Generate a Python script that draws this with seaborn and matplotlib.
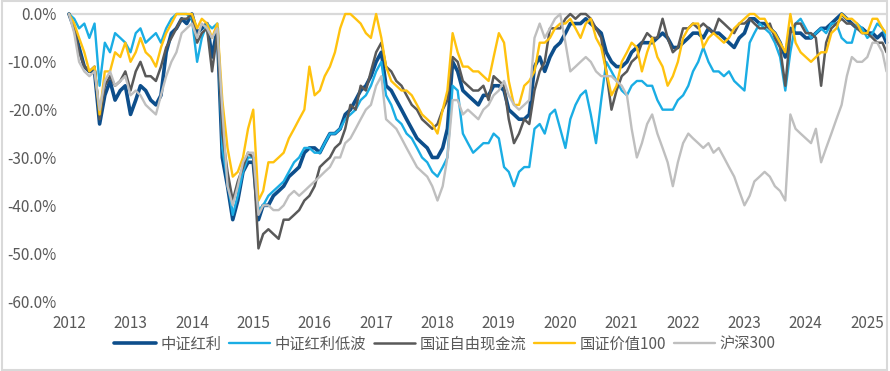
import matplotlib

matplotlib.use("Agg")

import matplotlib.dates as mdates
import matplotlib.pyplot as plt
import pandas as pd
import seaborn as sns
from matplotlib.patches import Rectangle
from matplotlib.ticker import FuncFormatter

# monthly readings of drawdown (%), last point is the end of the sample
dates = list(pd.date_range("2012-01-01", periods=160, freq="MS")) + [pd.Timestamp("2025-04-25")]

zz_hongli = [
    0, -3, -7, -11, -12, -12, -23, -17, -14, -18, -16, -15, -21, -18, -15, -16, -18, -19, -17, -8,
    -4, -3, -1, -2, 0, -4, -3, -2, -9, -3, -30, -36, -43, -39, -33, -31, -31, -43, -40, -40,
    -38, -37, -36, -34, -33, -32, -29, -28, -28, -29, -27, -25, -25, -24, -21, -20, -18, -16, -15, -13,
    -10, -8, -15, -16, -18, -20, -22, -24, -26, -27, -28, -30, -30, -28, -24, -10, -12, -16, -17, -18,
    -19, -17, -17, -15, -15, -16, -20, -21, -22, -22, -21, -11, -9, -12, -9, -7, -6, -4, -2, -2,
    -2, -1, -2, -3, -4, -8, -10, -11, -11, -10, -8, -7, -6, -6, -6, -5, -4, -5, -7, -7,
    -6, -5, -4, -4, -5, -3, -4, -4, -5, -6, -7, -5, -4, -1, -1, -2, -2, -3, -4, -6,
    -9, -3, -4, -4, -5, -5, -4, -3, -3, -2, -1, 0, -1, -2, -3, -3, -4, -4, -5, -4,
    -6,
]

zz_hongli_dibo = [
    0, -1, -3, -2, -5, -2, -15, -6, -8, -4, -5, -6, -8, -4, -3, -6, -5, -4, -6, -3,
    -1, 0, 0, 0, -1, -10, -5, -2, -3, -2, -28, -35, -42, -38, -33, -30, -30, -41, -40, -38,
    -37, -36, -35, -33, -31, -30, -28, -28, -29, -29, -27, -25, -25, -24, -22, -21, -20, -18, -17, -15,
    -12, -10, -17, -19, -22, -23, -25, -26, -28, -30, -31, -33, -34, -32, -30, -15, -16, -25, -27, -29,
    -28, -27, -27, -25, -26, -32, -33, -36, -33, -32, -32, -24, -23, -25, -21, -20, -24, -28, -22, -19,
    -17, -16, -21, -27, -18, -10, -12, -14, -16, -17, -15, -14, -14, -15, -15, -18, -20, -20, -20, -18,
    -17, -15, -12, -10, -7, -10, -12, -12, -13, -12, -14, -15, -16, -6, -4, -2, -3, -4, -6, -9,
    -16, -8, -2, -1, -3, -5, -4, -3, -4, -2, -2, -5, -6, -6, -2, -3, -5, -4, -2, -3,
    -5,
]

gz_xianjinliu = [
    0, -3, -8, -11, -12, -11, -22, -15, -13, -15, -14, -12, -16, -12, -10, -13, -13, -14, -11, -7,
    -5, -3, -1, -1, 0, -6, -4, -3, -12, -4, -25, -33, -39, -35, -32, -29, -30, -49, -46, -45,
    -46, -47, -43, -43, -42, -41, -39, -38, -36, -32, -31, -30, -28, -27, -24, -19, -20, -15, -16, -12,
    -8, -6, -11, -12, -14, -15, -17, -19, -20, -22, -23, -24, -23, -20, -18, -9, -10, -14, -15, -16,
    -16, -15, -18, -13, -14, -15, -22, -27, -25, -22, -23, -16, -12, -10, -3, -3, -3, -1, 0, -1,
    0, 0, -1, -3, -5, -12, -20, -16, -13, -12, -10, -9, -6, -4, -5, -5, -1, -5, -8, -7,
    -3, -3, -2, -3, -2, -3, -4, -1, -2, -3, -4, -2, -2, -1, -2, -3, -3, -2, -5, -7,
    -15, -4, -2, -2, -4, -4, -5, -15, -6, -3, -2, -1, -2, -2, -3, -4, -4, -5, -6, -6,
    -8,
]

gz_jiazhi100 = [
    0, -2, -5, -8, -12, -11, -21, -12, -12, -8, -9, -6, -10, -8, -5, -8, -9, -11, -7, -4,
    -2, 0, 0, 0, 0, -3, -1, -2, -5, -2, -18, -28, -34, -33, -30, -24, -20, -39, -37, -31,
    -31, -30, -29, -26, -24, -22, -20, -11, -17, -16, -13, -11, -8, -3, 0, 0, -1, -2, -4, -5,
    0, -5, -11, -14, -15, -16, -16, -17, -19, -21, -22, -23, -25, -20, -16, -4, -8, -11, -11, -12,
    -12, -13, -14, -9, -4, -6, -14, -19, -19, -15, -14, -12, -6, -6, -5, -3, -2, -2, -1, -3,
    -5, -2, -1, -5, -7, -12, -17, -15, -10, -8, -6, -7, -12, -8, -5, -9, -11, -15, -13, -10,
    -5, -3, -2, -2, -7, -5, -4, -5, -6, -5, -3, -2, -1, 0, 0, -1, -1, -3, -4, -6,
    -8, 0, -6, -8, -9, -10, -9, -8, -8, -4, -3, 0, -1, -1, -2, -4, -4, -1, -1, -3,
    -4,
]

hs300 = [
    0, -4, -10, -12, -13, -12, -20, -14, -12, -15, -14, -13, -17, -16, -17, -19, -20, -21, -17, -13,
    -10, -8, -4, -3, -2, -5, -2, -3, -5, -3, -20, -36, -40, -36, -31, -29, -29, -42, -40, -40,
    -41, -41, -40, -38, -37, -38, -37, -36, -35, -34, -33, -32, -30, -30, -27, -26, -24, -22, -20, -19,
    -15, -13, -22, -23, -24, -26, -28, -30, -32, -33, -34, -36, -39, -36, -30, -18, -18, -21, -20, -21,
    -22, -20, -19, -17, -16, -14, -17, -19, -20, -19, -18, -5, -2, -5, -3, -1, 0, -6, -12, -11,
    -10, -9, -10, -12, -13, -13, -13, -14, -15, -17, -24, -30, -27, -23, -21, -25, -28, -31, -36, -31,
    -27, -25, -26, -27, -28, -27, -29, -28, -30, -32, -34, -37, -40, -38, -35, -34, -33, -34, -36, -37,
    -39, -21, -24, -25, -26, -27, -24, -31, -28, -25, -22, -19, -13, -9, -10, -10, -9, -6, -6, -8,
    -12,
]

names = ["中证红利", "中证红利低波", "国证自由现金流", "国证价值100", "沪深300"]
series = [zz_hongli, zz_hongli_dibo, gz_xianjinliu, gz_jiazhi100, hs300]
colors = ["#0D4E8B", "#1AADE4", "#595959", "#FFC20E", "#BFBFBF"]
widths = [2.6, 1.7, 1.8, 1.7, 1.7]

sns.set_style("white")
plt.rcParams["font.family"] = ["Noto Sans CJK SC", "DejaVu Sans"]

fig = plt.figure(figsize=(8.9, 3.71), dpi=100)
ax = fig.add_axes([68 / 890, 1 - 301 / 371, 819 / 890, 287 / 371])

ax.axhline(0, color="#D9D9D9", lw=1.6, zorder=1)
for name, vals, c, w in zip(names, series, colors, widths):
    sns.lineplot(x=dates, y=vals, ax=ax, color=c, lw=w, label=name)
for ln in ax.get_lines():
    ln.set_clip_on(False)

ax.set_ylim(-60, 0)
ax.set_xlim(pd.Timestamp("2011-12-26"), pd.Timestamp("2025-04-28"))
ax.set_yticks(range(-60, 1, 10))
ax.yaxis.set_major_formatter(FuncFormatter(lambda v, _: f"{v:.1f}%"))
ax.xaxis.set_major_locator(mdates.YearLocator())
ax.xaxis.set_major_formatter(mdates.DateFormatter("%Y"))
ax.tick_params(axis="both", length=0, labelsize=11, labelcolor="#595959")
ax.tick_params(axis="x", pad=10)
ax.tick_params(axis="y", pad=8)
for s in ax.spines.values():
    s.set_visible(False)
ax.set_xlabel("")
ax.set_ylabel("")

ax.legend(loc="center", bbox_to_anchor=(0.5, 1 - 344 / 371), bbox_transform=fig.transFigure,
          ncol=5, frameon=False, fontsize=11, handlelength=2.7, handletextpad=0.3,
          columnspacing=0.5, labelcolor="#595959")

fig.patches.append(Rectangle((0.002, 0.003), 0.995, 0.993, transform=fig.transFigure,
                             fill=False, edgecolor="#D9D9D9", lw=1.5))

fig.savefig("out.png", dpi=100)
